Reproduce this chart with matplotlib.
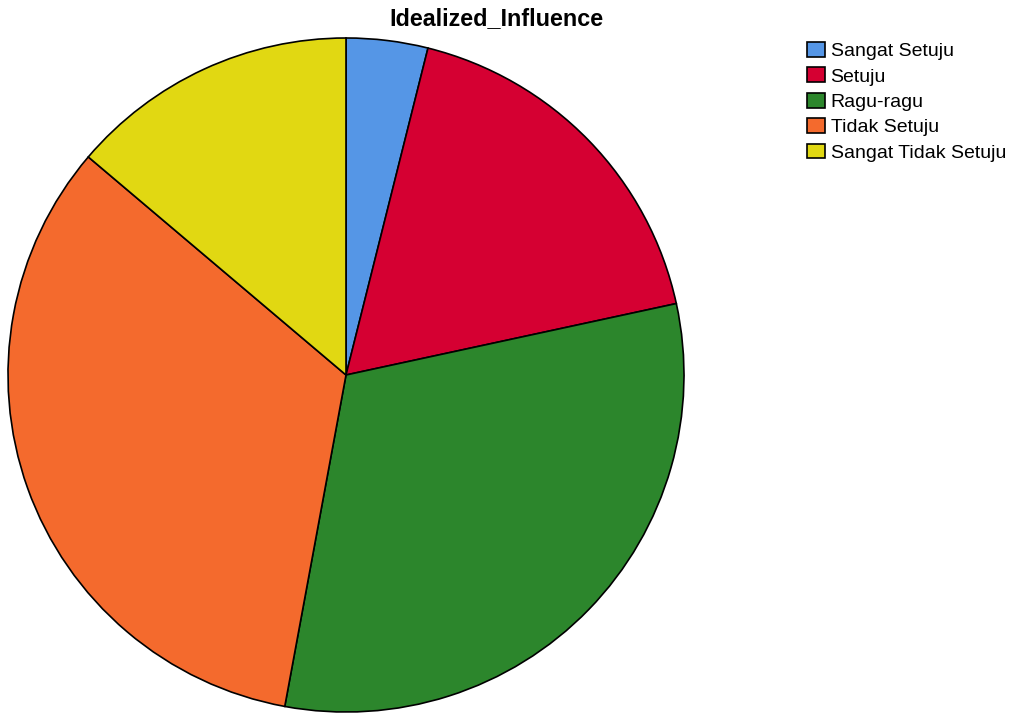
import matplotlib.pyplot as plt

categories = ['Sangat Setuju', 'Setuju', 'Ragu-ragu', 'Tidak Setuju', 'Sangat Tidak Setuju']
percent = [3.9, 17.7, 31.3, 33.3, 13.8]
colors = ['#5596E6', '#D50032', '#2C862C', '#F46A2D', '#E1D812']

plt.rcParams['font.family'] = ['Liberation Sans', 'DejaVu Sans']

fig = plt.figure(figsize=(10.12, 7.13), dpi=100)
ax = fig.add_axes([8 / 1012, 1 / 713, 676 / 1012, 674 / 713])
wedges, _ = ax.pie(percent, colors=colors, startangle=90, counterclock=False,
                   radius=1, wedgeprops=dict(edgecolor='black', linewidth=1.2))
ax.set_xlim(-1.0, 1.0)
ax.set_ylim(-1.0, 1.0)
ax.set_aspect('auto')
ax.axis('off')

fig.text(496 / 1012, 1 - 19 / 713, 'Idealized_Influence', ha='center', va='center',
         fontsize=16.8, fontweight='bold')

fig.legend(wedges, categories, loc='upper left', bbox_to_anchor=(807 / 1012, 1 - 42 / 713),
           frameon=False, fontsize=14, handlelength=0.93, handleheight=0.8,
           handletextpad=0.28, labelspacing=0.37, borderaxespad=0, borderpad=0)

fig.savefig('out.png', dpi=100)
